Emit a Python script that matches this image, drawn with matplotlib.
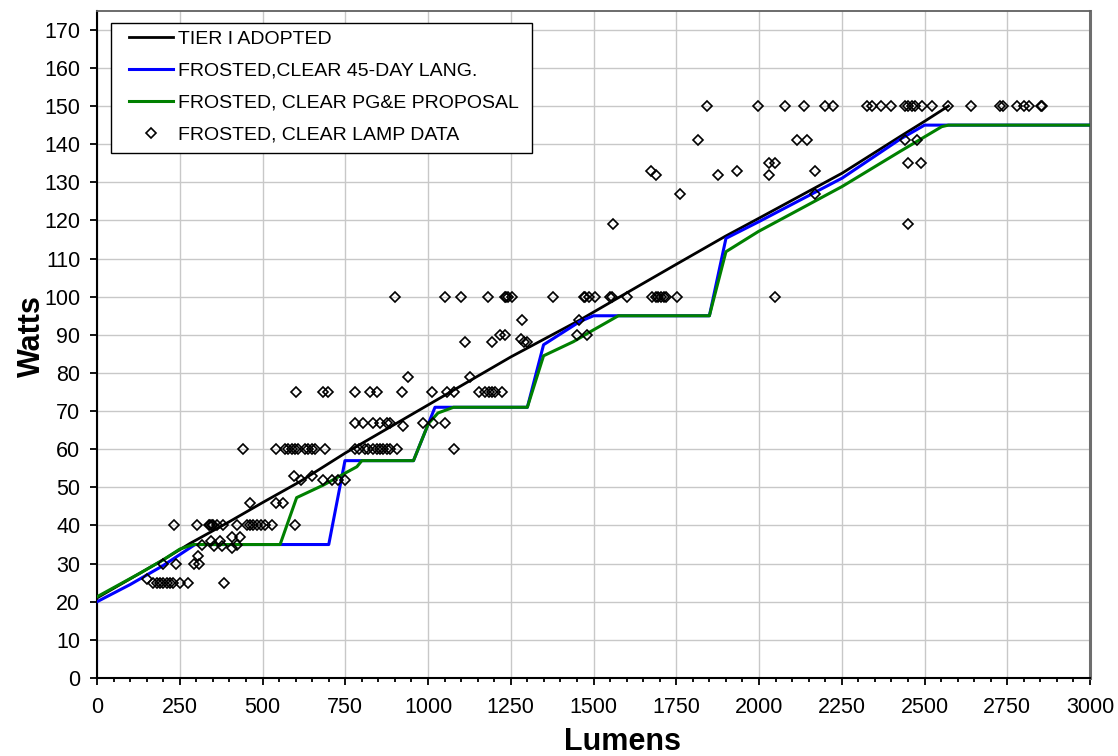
import matplotlib
matplotlib.use('Agg')
import matplotlib.pyplot as plt
from matplotlib.ticker import MultipleLocator
from matplotlib.patches import Rectangle
from matplotlib.lines import Line2D

plt.rcParams['font.family'] = ['Liberation Sans', 'DejaVu Sans']

# ---------------- data ----------------
tier_lumens = [0, 100, 200, 281, 400, 500, 613, 750, 1000, 1250,
               1459, 1640, 1750, 1897, 2000, 2251, 2426, 2500, 2572]
tier_watts = [21, 26, 31, 35.3, 41, 46, 51.5, 59.0, 71.6, 84.2,
              93.9, 103, 108.5, 115.8, 120.6, 132.4, 142, 146, 150]

lang_lumens = [0, 100, 200, 296, 700, 749, 956, 1021, 1300, 1349, 1459, 1500,
               1850, 1900, 2000, 2251, 2426, 2500, 3000]
lang_watts = [20, 24.5, 29.5, 35, 35, 57, 57, 71, 71, 87.4, 93.5, 95,
              95, 115.3, 119.7, 131.1, 141.3, 145, 145]

pge_lumens = [0, 130, 200, 250, 291, 553, 603, 684, 749, 785, 800, 956, 1001, 1030,
              1077, 1300, 1349, 1439, 1500, 1575, 1850, 1900, 1998, 2251, 2426,
              2552, 2572, 3000]
pge_watts = [21.3, 27.5, 31, 33.8, 35, 35, 47.3, 50.6, 53.7, 55.4, 57, 57, 66.7, 69.5,
             71, 71, 84.5, 88.2, 91.3, 95, 95, 111.8, 117.1, 128.9, 138.1,
             144.6, 145, 145]

lamp_lumens = [
    150, 168, 180, 190, 200, 210, 220, 230, 250, 275, 385,
    200, 240, 293, 305, 308,
    318, 345, 352, 370, 377, 407, 407, 422, 432,
    231, 303, 337, 341, 346, 351, 363, 382, 422, 452, 462, 472, 482, 495, 508, 528, 598,
    462, 541, 562,
    442, 541, 568, 578, 588, 598, 608, 628, 638, 648, 659, 689,
    780, 790, 810, 820, 835, 845, 855, 865, 875, 885, 905, 1077,
    595, 615, 649, 684, 709, 729, 749,
    780, 805, 835, 855, 875, 885, 925, 986, 1016, 1051,
    601, 684, 699, 780, 825, 845, 920, 1011, 1056, 1077, 1153, 1173, 1183, 1193, 1203, 1223,
    938, 1127,
    1112, 1192, 1290, 1298,
    1218, 1233, 1280, 1450, 1480,
    1283, 1455,
    900, 1051, 1100, 1180, 1231, 1236, 1243, 1253, 1379, 1470, 1474, 1485, 1505, 1550,
    1555, 1600, 1678, 1688, 1696, 1704, 1712, 1720, 1751, 2048,
    1560, 2450,
    1760, 2170,
    1675, 1690, 1877, 1932, 2030, 2170,
    2030, 2048, 2450, 2490,
    1815, 2114, 2144, 2440, 2476,
    1842, 1998, 2079, 2137, 2199, 2223, 2326, 2341, 2367, 2398, 2441, 2451, 2461, 2471,
    2491, 2522, 2572, 2640, 2728, 2738, 2779, 2801, 2816, 2851, 2854,
]
lamp_watts = [
    26, 25, 25, 25, 25, 25, 25, 25, 25, 25, 25,
    30, 30, 30, 32, 30,
    35, 36, 34.5, 36, 34.5, 34, 37, 35, 37,
    40, 40, 40, 40, 40, 40, 40, 40, 40, 40, 40, 40, 40, 40, 40, 40, 40,
    46, 46, 46,
    60, 60, 60, 60, 60, 60, 60, 60, 60, 60, 60, 60,
    60, 60, 60, 60, 60, 60, 60, 60, 60, 60, 60, 60,
    53, 52, 53, 52, 52, 52, 52,
    67, 67, 67, 67, 67, 67, 66, 67, 67, 67,
    75, 75, 75, 75, 75, 75, 75, 75, 75, 75, 75, 75, 75, 75, 75, 75,
    79, 79,
    88, 88, 88, 88,
    90, 90, 89, 90, 90,
    94, 94,
    100, 100, 100, 100, 100, 100, 100, 100, 100, 100, 100, 100, 100, 100,
    100, 100, 100, 100, 100, 100, 100, 100, 100, 100,
    119, 119,
    127, 127,
    133, 132, 132, 133, 132, 133,
    135, 135, 135, 135,
    141, 141, 141, 141, 141,
    150, 150, 150, 150, 150, 150, 150, 150, 150, 150, 150, 150, 150, 150,
    150, 150, 150, 150, 150, 150, 150, 150, 150, 150, 150,
]

x_ticks = list(range(0, 3001, 250))
y_ticks = list(range(0, 171, 10))

series_labels = ['TIER I ADOPTED', 'FROSTED,CLEAR 45-DAY LANG.',
                 'FROSTED, CLEAR PG&E PROPOSAL', 'FROSTED, CLEAR LAMP DATA']

# ---------------- figure ----------------
fig = plt.figure(figsize=(11.18, 7.56), dpi=100)
ax = fig.add_axes([0.0868, 0.1032, 0.8882, 0.8826])

ax.plot(tier_lumens, tier_watts, color='black', lw=2.0, zorder=3)
ax.plot(lang_lumens, lang_watts, color='#0000ff', lw=2.2, zorder=3.1)
ax.plot(pge_lumens, pge_watts, color='#008000', lw=2.2, zorder=3.2)
ax.plot(lamp_lumens, lamp_watts, linestyle='none', marker='D', markersize=5.4,
        markerfacecolor='none', markeredgecolor='black', markeredgewidth=1.2,
        zorder=3.3)

ax.set_xlim(0, 3000)
ax.set_ylim(0, 175)
ax.set_xticks(x_ticks)
ax.set_yticks(y_ticks)
ax.xaxis.set_minor_locator(MultipleLocator(50))
ax.grid(True, which='major', color='#c8c8c8', lw=1.0)
ax.set_axisbelow(True)

ax.tick_params(axis='both', which='major', direction='out', length=5, width=1.3,
               labelsize=15.5, color='black')
ax.tick_params(axis='x', which='major', pad=9)
ax.tick_params(axis='y', which='major', pad=7)
ax.tick_params(axis='x', which='minor', direction='out', length=3, width=1.3)

for s in ['left', 'bottom']:
    ax.spines[s].set_color('black')
    ax.spines[s].set_linewidth(1.5)
ax.spines['top'].set_color('#606060')
ax.spines['top'].set_linewidth(1.3)
ax.spines['right'].set_color('#6e6e6e')
ax.spines['right'].set_linewidth(2.2)

ax.set_xlabel('Lumens', fontsize=22, fontweight='bold')
ax.set_ylabel('Watts', fontsize=22, fontweight='bold')
ax.xaxis.set_label_coords(0.529, -0.073)
ax.yaxis.set_label_coords(-0.050, 0.513)

# legend
handles = [
    Line2D([], [], color='black', lw=2.0),
    Line2D([], [], color='#0000ff', lw=2.2),
    Line2D([], [], color='#008000', lw=2.2),
    Line2D([], [], linestyle='none', marker='D', markersize=4.8, markerfacecolor='none',
           markeredgecolor='black', markeredgewidth=1.2),
]
leg = ax.legend(handles, series_labels, loc='upper left', bbox_to_anchor=(0.0325, 0.9705),
                borderaxespad=0, borderpad=0, frameon=False, handlelength=2.25,
                handletextpad=0.25, labelspacing=0.73, fontsize=14, numpoints=1)
leg.set_zorder(6)
ax.add_patch(Rectangle((0.0138, 0.7872), 0.4246, 0.1948, transform=ax.transAxes,
                       facecolor='white', edgecolor='black', lw=1.0, zorder=5.5,
                       clip_on=False))

fig.savefig('out.png', dpi=100)
